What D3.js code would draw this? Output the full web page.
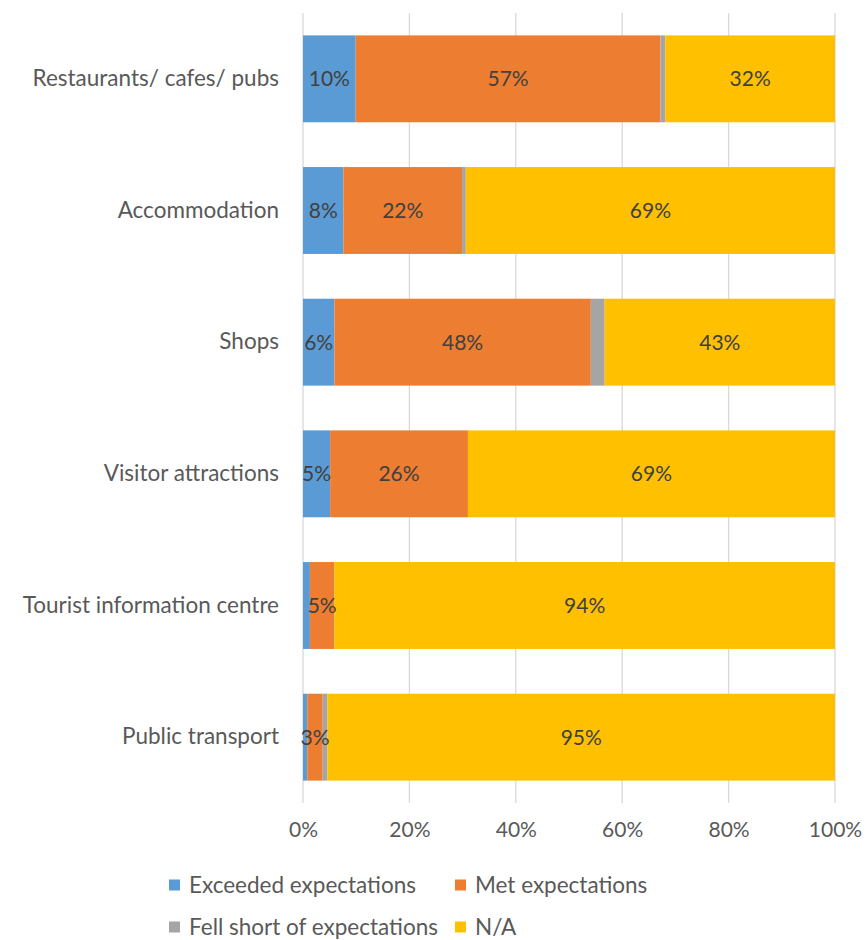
<!DOCTYPE html>
<html>
<head>
<meta charset="utf-8">
<script src="https://cdn.jsdelivr.net/npm/d3@7"></script>
<style>
  html, body { margin: 0; padding: 0; background: #fff; }
  svg text { font-family: Lato, "Open Sans", sans-serif; }
</style>
</head>
<body>
<svg id="chart" width="866" height="940"></svg>
<script>
// Share of respondents by experience with each facility type
const categories = [
  "Restaurants/ cafes/ pubs",
  "Accommodation",
  "Shops",
  "Visitor attractions",
  "Tourist information centre",
  "Public transport"
];
const seriesNames = ["Exceeded expectations", "Met expectations", "Fell short of expectations", "N/A"];
const exceeded = [9.9, 7.6, 5.9, 5.1, 1.3, 0.8];
const met      = [57.3, 22.3, 48.2, 25.9, 4.6, 2.9];
const fellShort = [0.9, 0.7, 2.6, 0.0, 0.0, 0.9];
const notApplicable = [31.9, 69.4, 43.3, 69.0, 94.1, 95.4];
const tickValues = [0, 20, 40, 60, 80, 100];
const colors = ["#5b9bd5", "#ed7d31", "#a5a5a5", "#ffc000"];

const seriesValues = [exceeded, met, fellShort, notApplicable];
const rows = categories.map((c, i) => {
  const r = { category: c };
  seriesNames.forEach((s, k) => { r[s] = seriesValues[k][i]; });
  return r;
});

const svg = d3.select("#chart");
const x = d3.scaleLinear().domain([0, 100]).range([303, 835]);
const y = d3.scaleBand().domain(categories).range([13, 803]).paddingInner(0.34).paddingOuter(0.17);

// vertical gridlines
svg.append("g")
  .selectAll("line")
  .data(tickValues)
  .join("line")
  .attr("x1", d => x(d)).attr("x2", d => x(d))
  .attr("y1", 13).attr("y2", 803)
  .attr("stroke", "#d9d9d9").attr("stroke-width", 1.3);

// x tick labels
const xAxis = d3.axisBottom(x).tickValues(tickValues).tickFormat(d => d + "%").tickSize(0).tickPadding(0);
const gx = svg.append("g").attr("transform", "translate(0,822)").call(xAxis);
gx.select(".domain").remove();
gx.selectAll("text").attr("font-size", 21).attr("fill", "#595959").attr("dy", "0.71em")
  .style("font-family", "Lato, 'Open Sans', sans-serif");

// category labels
const yAxis = d3.axisLeft(y).tickSize(0).tickPadding(24);
const gy = svg.append("g").attr("transform", "translate(303,0)").call(yAxis);
gy.select(".domain").remove();
gy.selectAll("text").attr("font-size", 22.5).attr("fill", "#595959")
  .style("font-family", "Lato, 'Open Sans', sans-serif");

// stacked bars
const stacked = d3.stack().keys(seriesNames)(rows);
const layers = svg.append("g").selectAll("g")
  .data(stacked)
  .join("g")
  .attr("fill", (d, i) => colors[i]);

layers.selectAll("rect")
  .data(d => d)
  .join("rect")
  .attr("x", d => x(d[0]))
  .attr("width", d => x(d[1]) - x(d[0]))
  .attr("y", d => y(d.data.category))
  .attr("height", y.bandwidth());

// value labels (the small "fell short" segments and slivers stay unlabelled)
const labels = svg.append("g");
stacked.forEach((layer, k) => {
  if (k === 2) return;
  layer.forEach(d => {
    const v = d[1] - d[0];
    if (v < 2) return;
    labels.append("text")
      .attr("x", (x(d[0]) + x(d[1])) / 2)
      .attr("y", y(d.data.category) + y.bandwidth() / 2)
      .attr("dy", "0.35em")
      .attr("text-anchor", "middle")
      .attr("font-size", 21)
      .attr("fill", "#404040")
      .text(Math.round(v) + "%");
  });
});

// legend
const legendItems = [
  { name: seriesNames[0], color: colors[0], x: 169, y: 885 },
  { name: seriesNames[1], color: colors[1], x: 455, y: 885 },
  { name: seriesNames[2], color: colors[2], x: 169, y: 927 },
  { name: seriesNames[3], color: colors[3], x: 455, y: 927 }
];
const lg = svg.append("g").selectAll("g").data(legendItems).join("g")
  .attr("transform", d => `translate(${d.x},${d.y})`);
lg.append("rect").attr("x", 0).attr("y", -5.5).attr("width", 11).attr("height", 11).attr("fill", d => d.color);
lg.append("text").attr("x", 20).attr("dy", "0.35em").attr("font-size", 22.5).attr("fill", "#595959").text(d => d.name);
</script>
</body>
</html>
